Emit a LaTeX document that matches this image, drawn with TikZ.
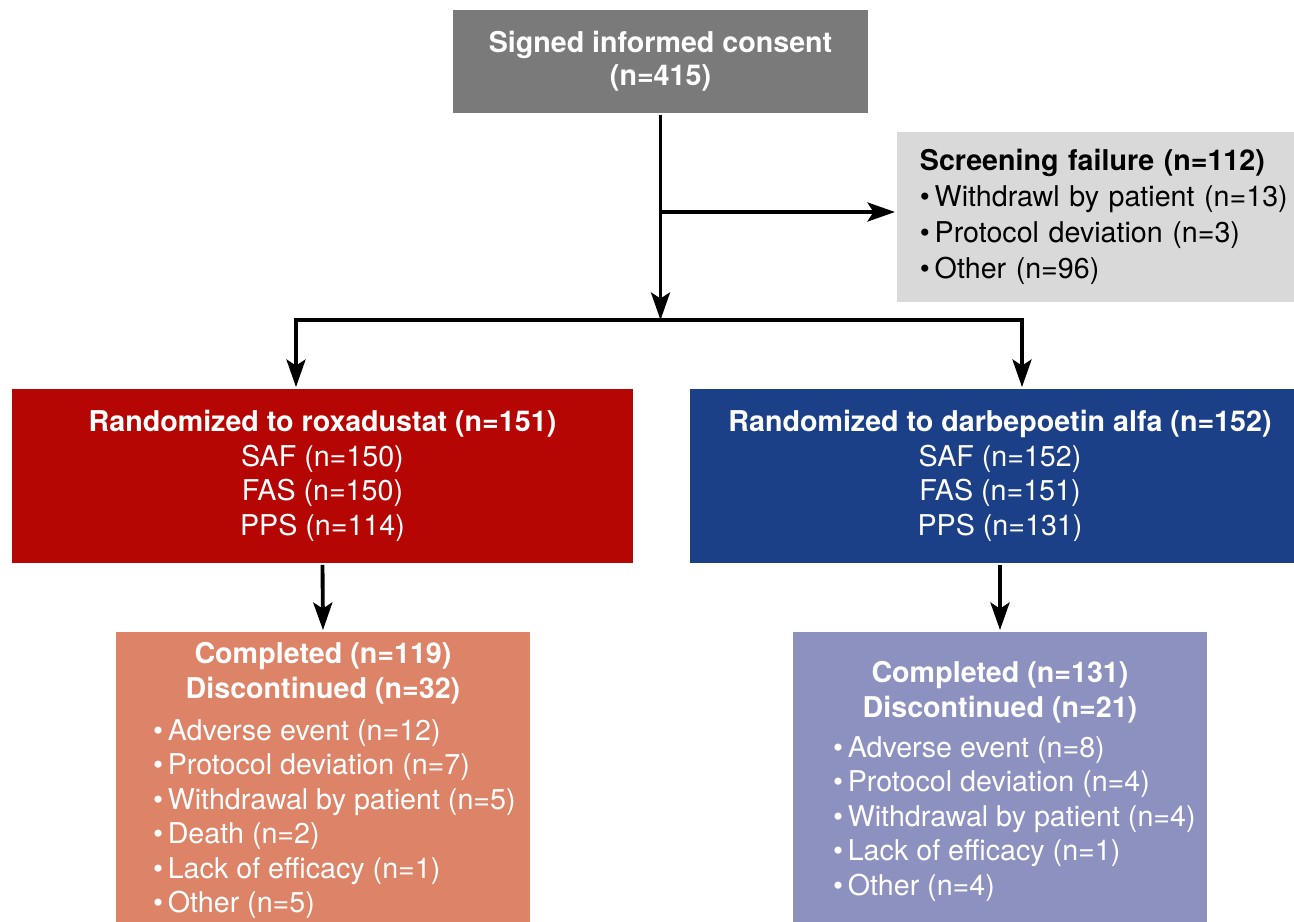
\documentclass[tikz,border=0pt]{standalone}
\usepackage{fontspec}
\setmainfont{TeX Gyre Heros}
\usetikzlibrary{positioning, arrows.meta}

\definecolor{consentgray}{RGB}{122,122,122}
\definecolor{screengray}{RGB}{217,217,217}
\definecolor{roxared}{RGB}{181,6,4}
\definecolor{darbeblue}{RGB}{27,64,135}
\definecolor{roxapale}{RGB}{221,131,104}
\definecolor{darbepale}{RGB}{141,145,192}

\begin{document}
\begin{tikzpicture}[>={Stealth[length=5.5mm, width=3.8mm, inset=1.2mm]}, line width=2.2pt,
    every node/.style={inner sep=0pt, font=\fontsize{16.3}{19.6}\selectfont},
    box/.style={rectangle, draw=none, text=white, align=center},
    headtext/.style={text=white, align=center, font=\fontsize{16.3}{19.6}\selectfont\bfseries},
    listtext/.style={text=white, align=left}]

    \useasboundingbox (0,0) rectangle (25.88,-18.44);
    \clip (0,0) rectangle (25.88,-18.44);

    % Top: consent and screening
    \node[box, fill=consentgray, minimum width=8.3cm, minimum height=2.06cm, font=\fontsize{16.3}{18.7}\selectfont\bfseries] (consent) at (13.21,-1.23) {Signed informed consent\\(n=415)};
    \node[box, fill=screengray, text=black, align=left, anchor=west, text width=7.9cm, inner xsep=0.46cm, minimum height=3.4cm, font=\fontsize{16.3}{20.5}\selectfont] (screen) at (17.9,-4.34) {\textbf{Screening failure (n=112)}\\•\,Withdrawl by patient (n=13)\\•\,Protocol deviation (n=3)\\•\,Other (n=96)};

    % Randomized arms
    \node[box, fill=roxared, minimum width=12.42cm, minimum height=3.48cm] (roxa) at (6.45,-9.52) {\textbf{Randomized to roxadustat (n=151)}\\SAF (n=150)\\FAS (n=150)\\PPS (n=114)};
    \node[box, fill=darbeblue, minimum width=12.42cm, minimum height=3.48cm] (darbe) at (20.0,-9.52) {\textbf{Randomized to darbepoetin alfa (n=152)}\\SAF (n=152)\\FAS (n=151)\\PPS (n=131)};

    % Outcome boxes
    \node[box, fill=roxapale, minimum width=8.28cm, minimum height=6.16cm] (roxaend) at (6.46,-15.72) {};
    \node[box, fill=darbepale, minimum width=8.28cm, minimum height=6.16cm] (darbeend) at (20.0,-15.72) {};

    \node[headtext] (roxahead) [below=0.21cm of roxaend.north] {Completed (n=119)\\Discontinued (n=32)};
    \node[listtext] (roxalist) [below right=1.75cm and 0.74cm of roxaend.north west] {•\,Adverse event (n=12)\\•\,Protocol deviation (n=7)\\•\,Withdrawal by patient (n=5)\\•\,Death (n=2)\\•\,Lack of efficacy (n=1)\\•\,Other (n=5)};

    \node[headtext] (darbehead) [below=0.59cm of darbeend.north] {Completed (n=131)\\Discontinued (n=21)};
    \node[listtext] (darbelist) [below right=2.09cm and 0.8cm of darbeend.north west] {•\,Adverse event (n=8)\\•\,Protocol deviation (n=4)\\•\,Withdrawal by patient (n=4)\\•\,Lack of efficacy (n=1)\\•\,Other (n=4)};

    % Connectors
    \coordinate (split) at (13.21,-4.24);
    \coordinate (trunk) at (13.21,-6.4);
    \coordinate (leftend) at (5.92,-6.4);
    \coordinate (rightend) at (20.44,-6.4);

    \draw[->] (consent.south) -- (trunk);
    \draw[->] (split) -- (split -| screen.west);
    \draw[->] (trunk) -| (leftend |- roxa.north);
    \draw[->] (trunk) -| (rightend |- darbe.north);
    \draw[->] (roxa.south) -- (roxaend.north);
    \draw[->] (darbe.south) -- (darbeend.north);

\end{tikzpicture}
\end{document}
